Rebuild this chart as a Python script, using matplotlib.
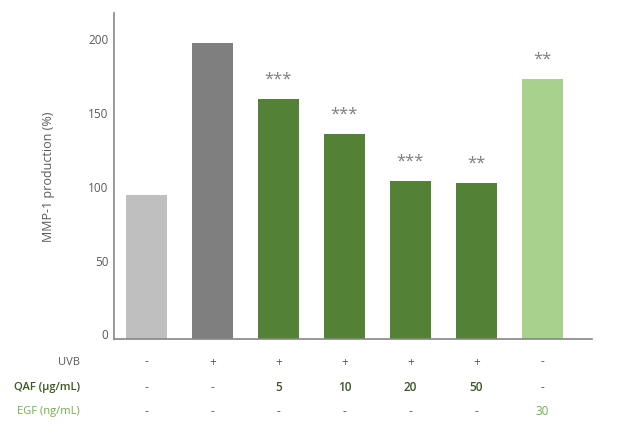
import matplotlib
matplotlib.use("Agg")
import matplotlib.pyplot as plt
from matplotlib.transforms import blended_transform_factory, ScaledTranslation

plt.rcParams['font.family'] = ['Open Sans', 'DejaVu Sans']

# Data
groups = ["ctrl", "UVB", "QAF5", "QAF10", "QAF20", "QAF50", "EGF30"]
mmp1 = [97.5, 200, 162.5, 138.5, 107, 105.5, 176]
signif = ["", "", "***", "***", "***", "**", "**"]
bar_colors = ["#bfbfbf", "#7f7f7f", "#538135", "#538135", "#538135", "#538135", "#a9d18e"]
uvb_row = ["-", "+", "+", "+", "+", "+", "-"]
qaf_row = ["-", "-", "5", "10", "20", "50", "-"]
egf_row = ["-", "-", "-", "-", "-", "-", "30"]
yticks = [0, 50, 100, 150, 200]

GRAY = "#595959"
DARK_GREEN = "#385723"
LIGHT_GREEN = "#70ad47"

fig = plt.figure(figsize=(6.29, 4.35), dpi=100)
ax = fig.add_axes([114/629, 1-340/435, 478/629, 326/435])

x = list(range(len(groups)))
ax.bar(x, mmp1, width=0.62, color=bar_colors)
ax.set_xlim(-0.49, 6.75)
ax.set_ylim(0, 220.6)

for xi, v, s in zip(x, mmp1, signif):
    if s:
        ax.annotate(s, (xi, v), xytext=(0, 9), textcoords="offset points",
                    ha="center", va="bottom", fontsize=12, color="#7f7f7f")

ax.set_yticks(yticks)
ax.set_yticklabels([str(t) for t in yticks])
ax.tick_params(axis="y", length=0, pad=4, labelsize=8.5, labelcolor=GRAY)
lift = ScaledTranslation(0, 4/72, fig.dpi_scale_trans)
for lbl in ax.get_yticklabels():
    lbl.set_transform(lbl.get_transform() + lift)
ax.set_xticks([])
for side in ("top", "right"):
    ax.spines[side].set_visible(False)
for side in ("left", "bottom"):
    ax.spines[side].set_color("#868686")
    ax.spines[side].set_linewidth(1.2)

ax.set_ylabel("MMP-1 production (%)", fontsize=9, color=GRAY, labelpad=24)

# Treatment table under the bars
tr = blended_transform_factory(ax.transData, ax.transAxes)
lab_x = -0.071
rows = [
    ("UVB", uvb_row, -0.0675, GRAY, "normal"),
    ("QAF (µg/mL)", qaf_row, -0.147, DARK_GREEN, "semibold"),
    ("EGF (ng/mL)", egf_row, -0.218, LIGHT_GREEN, "normal"),
]
for label, vals, yy, col, wt in rows:
    ax.text(lab_x, yy, label, transform=ax.transAxes, ha="right", va="center",
            fontsize=8, color=col, fontweight=wt)
    for xi, v in zip(x, vals):
        c = GRAY if v in ("-", "+") else col
        w = "normal" if v in ("-", "+") else wt
        ax.text(xi, yy, v, transform=tr, ha="center", va="center",
                fontsize=8.5, color=c, fontweight=w)

fig.savefig("out.png", dpi=100)
